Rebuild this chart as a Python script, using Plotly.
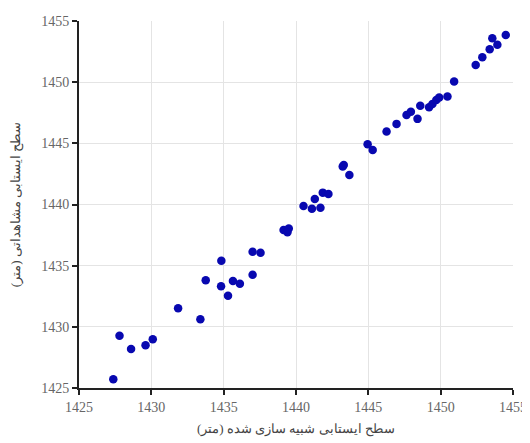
import plotly.graph_objects as go

# simulated water table (x) vs observed water table (y), metres
simulated = [1427.37, 1427.8, 1428.6, 1429.6, 1430.1, 1431.85, 1433.39, 1433.76, 1434.84, 1434.82,
             1435.3, 1435.64, 1436.12, 1437.0, 1437.0, 1437.55, 1439.14, 1439.5, 1439.41, 1440.52,
             1441.1, 1441.69, 1441.3, 1441.85, 1442.24, 1443.23, 1443.3, 1443.69, 1444.95, 1445.3,
             1446.26, 1446.95, 1447.64, 1447.94, 1448.4, 1448.59, 1449.2, 1449.43, 1449.7, 1449.9,
             1450.47, 1450.93, 1452.42, 1452.88, 1453.39, 1453.57, 1453.92, 1454.5]
observed = [1425.71, 1429.28, 1428.19, 1428.49, 1428.98, 1431.52, 1430.62, 1433.8, 1435.41, 1433.32,
            1432.55, 1433.75, 1433.53, 1434.26, 1436.14, 1436.06, 1437.92, 1438.03, 1437.73, 1439.88,
            1439.66, 1439.74, 1440.45, 1440.97, 1440.86, 1443.1, 1443.23, 1442.42, 1444.92, 1444.46,
            1445.96, 1446.59, 1447.32, 1447.59, 1447.0, 1448.08, 1447.95, 1448.22, 1448.55, 1448.74,
            1448.82, 1450.05, 1451.41, 1452.04, 1452.69, 1453.59, 1453.05, 1453.86]
tick_vals = [1425, 1430, 1435, 1440, 1445, 1450, 1455]
x_title = "سطح ایستابی شبیه سازی شده (متر)"
y_title = "سطح ایستابی مشاهداتی (متر)"

font_family = "'Liberation Serif', 'Times New Roman', 'DejaVu Serif', serif"

fig = go.Figure()
fig.add_trace(go.Scatter(
    x=simulated, y=observed, mode="markers",
    marker=dict(color="#0808b0", size=8.5, line=dict(width=0)),
    showlegend=False, cliponaxis=False,
))

axis_common = dict(
    range=[1425, 1455], tickvals=tick_vals, ticks="outside", ticklen=5, tickwidth=1.5,
    tickcolor="#222", showline=True, linecolor="#222", linewidth=1.8,
    showgrid=True, gridcolor="#e4e4e4", gridwidth=1, zeroline=False, automargin=False,
    tickfont=dict(family=font_family, size=14, color="#666"),
)

# the page body has an 8px default margin, so the figure is sized to fit the window
fig.update_layout(
    width=522, height=435,
    margin=dict(l=71, r=17, t=13, b=55),
    paper_bgcolor="white", plot_bgcolor="white",
    xaxis=dict(**axis_common,
               title=dict(text=x_title, font=dict(family=font_family, size=13, color="#444"), standoff=10)),
    yaxis=dict(**axis_common,
               title=dict(text=y_title, font=dict(family=font_family, size=13, color="#444"), standoff=22)),
)

fig.write_html("out.html")
